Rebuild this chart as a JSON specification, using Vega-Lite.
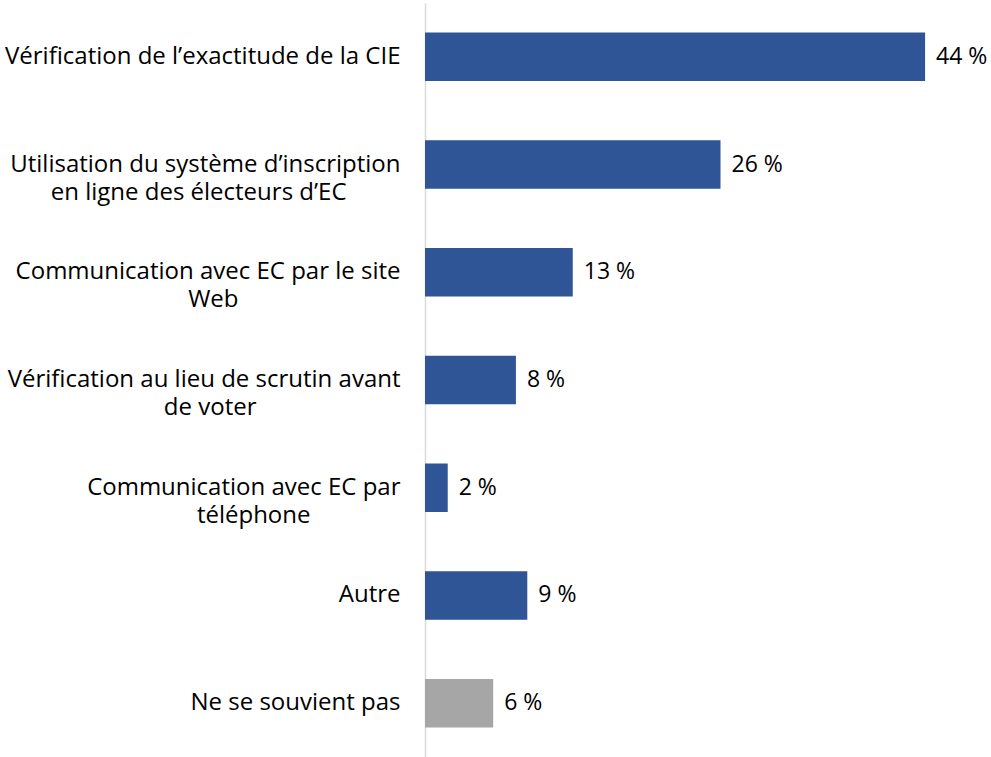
{
  "$schema": "https://vega.github.io/schema/vega-lite/v6.json",
  "width": 566,
  "height": 754,
  "autosize": {"type": "none"},
  "padding": {"left": 425, "top": 3, "right": 0, "bottom": 0},
  "background": "white",
  "config": {"view": {"stroke": null}, "font": "Open Sans"},
  "data": {
    "values": [
      {"cat": "Vérification de l’exactitude de la CIE", "v": 44, "grp": "a"},
      {"cat": "Utilisation du système d’inscription|en ligne des électeurs d’EC\u2800\u2800\u2800", "v": 26, "grp": "a"},
      {"cat": "Communication avec EC par le site|Web\u2800\u2800\u2800\u2800\u2800\u2800\u2800\u2800\u2800", "v": 13, "grp": "a"},
      {"cat": "Vérification au lieu de scrutin avant|de voter\u2800\u2800\u2800\u2800\u2800\u2800\u2800\u2800", "v": 8, "grp": "a"},
      {"cat": "Communication avec EC par|téléphone\u2800\u2800\u2800\u2800\u2800", "v": 2, "grp": "a"},
      {"cat": "Autre", "v": 9, "grp": "a"},
      {"cat": "Ne se souvient pas", "v": 6, "grp": "b"}
    ]
  },
  "encoding": {
    "y": {
      "field": "cat",
      "type": "nominal",
      "sort": null,
      "scale": {"paddingInner": 0.55, "paddingOuter": 0.275},
      "axis": {
        "title": null,
        "ticks": false,
        "labelPadding": 25,
        "labelFontSize": 24,
        "labelColor": "#000000",
        "labelLimit": 500,
        "labelLineHeight": 28,
        "labelExpr": "split(datum.label, '|')",
        "domainColor": "#D9D9D9",
        "domainWidth": 1.5
      }
    },
    "x": {
      "field": "v",
      "type": "quantitative",
      "scale": {"domain": [0, 49.8]},
      "axis": null
    }
  },
  "layer": [
    {
      "mark": {"type": "bar"},
      "encoding": {
        "color": {
          "field": "grp",
          "type": "nominal",
          "scale": {"domain": ["a", "b"], "range": ["#2F5597", "#A6A6A6"]},
          "legend": null
        }
      }
    },
    {
      "mark": {"type": "text", "align": "left", "dx": 11, "fontSize": 23, "color": "#000000", "text": {"expr": "datum.v + ' %'"}},
      "encoding": {}
    }
  ]
}
